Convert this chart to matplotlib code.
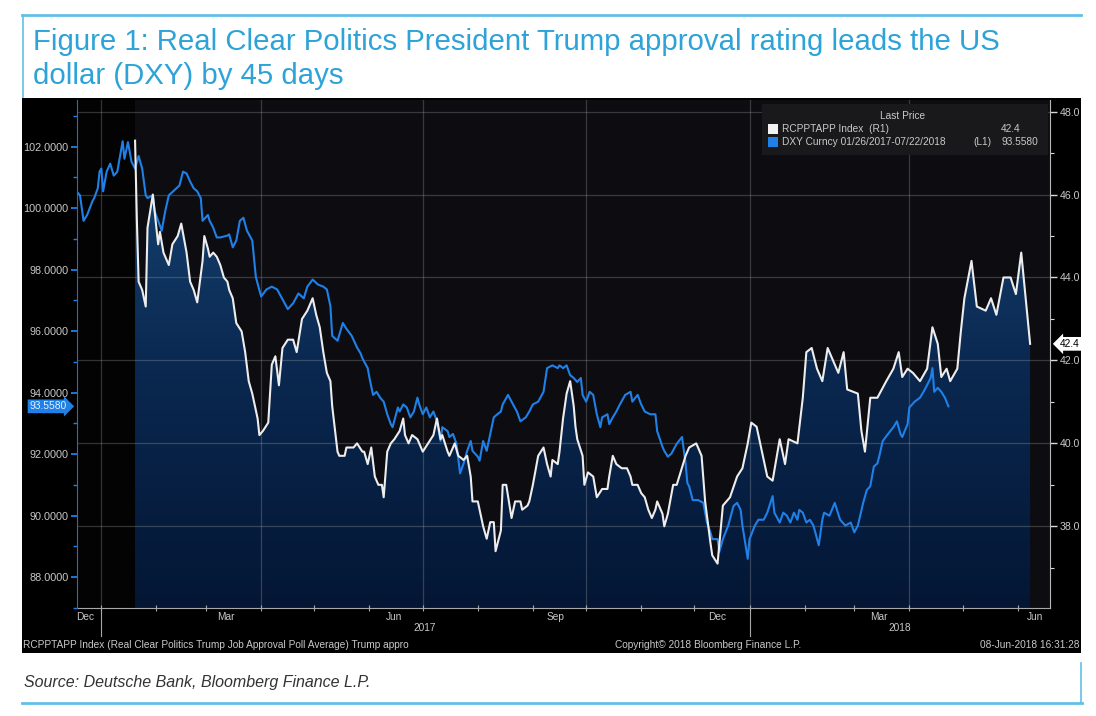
import numpy as np
import pandas as pd
import matplotlib
matplotlib.use("Agg")
import matplotlib.pyplot as plt
import matplotlib.dates as mdates
import matplotlib.transforms as mtransforms
from matplotlib.colors import LinearSegmentedColormap
from matplotlib.patches import Rectangle
from matplotlib.lines import Line2D

plt.rcParams['font.family'] = ['Liberation Sans', 'DejaVu Sans']

# ---------------------------------------------------------------- data
BASE_DATE = "2017-01-01"   # day offsets below are counted from this date

# RCP Trump job approval average (right axis, R1)
rcp_day_offset = [19, 20, 21, 23, 25, 26, 29, 30, 32, 33,
                  35, 38, 40, 43, 45, 48, 50, 52, 54, 57,
                  58, 60, 61, 63, 65, 67, 69, 71, 72, 74,
                  76, 79, 81, 83, 85, 88, 89, 91, 94, 96,
                  98, 100, 102, 105, 108, 110, 113, 116, 119, 121,
                  123, 125, 127, 129, 130, 133, 134, 137, 138, 142,
                  144, 147, 148, 150, 152, 154, 156, 158, 159, 161,
                  163, 165, 168, 170, 171, 173, 175, 178, 181, 184,
                  187, 189, 191, 192, 195, 196, 199, 201, 204, 206,
                  208, 209, 212, 213, 215, 217, 219, 221, 222, 225,
                  226, 228, 231, 233, 236, 237, 240, 241, 243, 246,
                  249, 251, 253, 254, 257, 258, 260, 262, 264, 266,
                  267, 268, 271, 272, 274, 277, 279, 282, 285, 286,
                  288, 290, 293, 296, 298, 299, 302, 304, 306, 308,
                  310, 312, 313, 316, 317, 319, 322, 324, 329, 331,
                  335, 338, 340, 343, 344, 347, 350, 354, 358, 361,
                  364, 366, 369, 372, 375, 378, 382, 385, 387, 392,
                  395, 397, 400, 403, 406, 409, 413, 415, 418, 420,
                  426, 428, 430, 433, 437, 442, 446, 449, 451, 454,
                  457, 461, 465, 468, 471, 473, 476, 478, 482, 484,
                  486, 490, 493, 498, 501, 504, 508, 512, 515, 518,
                  523]
rcp_values = [47.3, 45.4, 43.9, 43.7, 43.3, 45.2, 46.0, 45.6, 44.8, 45.1,
              44.6, 44.3, 44.8, 45.0, 45.3, 44.6, 43.9, 43.7, 43.4, 44.4,
              45.0, 44.7, 44.5, 44.6, 44.5, 44.3, 44.0, 43.9, 43.7, 43.5,
              42.9, 42.7, 42.2, 41.5, 41.2, 40.6, 40.2, 40.3, 40.5, 41.9,
              42.1, 41.4, 42.3, 42.5, 42.5, 42.2, 43.0, 43.2, 43.5, 43.1,
              42.8, 42.2, 41.7, 41.5, 40.9, 39.8, 39.7, 39.7, 39.9, 39.9,
              40.0, 39.8, 39.8, 39.5, 39.9, 39.2, 39.0, 39.0, 38.7, 39.8,
              40.0, 40.1, 40.3, 40.6, 40.2, 40.0, 40.2, 40.1, 39.8, 40.0,
              40.2, 40.6, 40.1, 40.2, 39.8, 39.7, 40.0, 39.7, 39.6, 39.7,
              39.2, 38.6, 38.6, 38.4, 38.0, 37.7, 38.1, 38.1, 37.4, 37.9,
              39.0, 39.0, 38.2, 38.6, 38.6, 38.4, 38.5, 38.6, 39.0, 39.7,
              39.9, 39.5, 39.2, 39.6, 39.5, 39.8, 40.6, 41.2, 41.5, 40.9,
              40.4, 40.1, 39.7, 39.0, 39.3, 39.2, 38.7, 38.9, 38.9, 39.2,
              39.7, 39.5, 39.4, 39.4, 39.2, 39.0, 39.0, 38.8, 38.7, 38.4,
              38.2, 38.4, 38.6, 38.3, 38.0, 38.3, 39.0, 39.0, 39.7, 39.9,
              40.0, 39.7, 38.6, 37.6, 37.3, 37.1, 38.5, 38.7, 39.2, 39.4,
              40.0, 40.5, 40.4, 39.8, 39.2, 39.1, 40.1, 39.5, 40.1, 40.0,
              41.1, 42.2, 42.3, 41.8, 41.5, 42.3, 41.9, 41.7, 42.2, 41.3,
              41.2, 40.3, 39.8, 41.1, 41.1, 41.5, 41.8, 42.2, 41.6, 41.8,
              41.7, 41.5, 41.8, 42.8, 42.4, 41.6, 41.8, 41.5, 41.8, 42.7,
              43.5, 44.4, 43.3, 43.2, 43.5, 43.1, 44.0, 44.0, 43.6, 44.6,
              42.4]

# DXY (left axis, L1), shifted 45 days
dxy_day_offset = [-14, -12, -10, -8, -5, -4, -2, -1, 0, 1,
                  3, 5, 7, 9, 12, 13, 15, 17, 19, 21,
                  23, 25, 26, 29, 30, 32, 34, 36, 38, 41,
                  44, 46, 48, 50, 52, 54, 56, 57, 60, 61,
                  63, 65, 67, 71, 72, 74, 76, 78, 80, 82,
                  85, 87, 88, 90, 93, 96, 99, 102, 105, 108,
                  111, 114, 116, 119, 122, 125, 127, 129, 130, 133,
                  136, 138, 141, 144, 146, 147, 150, 151, 153, 155,
                  157, 159, 161, 163, 164, 167, 168, 170, 172, 174,
                  176, 178, 179, 181, 183, 185, 187, 189, 191, 192,
                  195, 196, 198, 200, 202, 204, 206, 208, 209, 212,
                  213, 215, 217, 219, 221, 223, 225, 226, 229, 231,
                  234, 236, 239, 241, 243, 246, 249, 251, 254, 257,
                  258, 260, 262, 264, 266, 268, 270, 271, 273, 275,
                  277, 279, 281, 282, 285, 286, 288, 290, 292, 295,
                  298, 299, 302, 304, 306, 309, 312, 313, 316, 317,
                  319, 321, 324, 327, 329, 330, 331, 333, 336, 339,
                  341, 343, 344, 347, 348, 350, 353, 356, 358, 360,
                  361, 364, 365, 368, 370, 373, 375, 378, 379, 382,
                  384, 386, 388, 390, 392, 393, 395, 397, 399, 401,
                  404, 406, 407, 410, 413, 416, 419, 422, 424, 426,
                  429, 431, 433, 435, 437, 438, 440, 443, 446, 448,
                  450, 451, 454, 455, 458, 461, 463, 465, 467, 468,
                  469, 471, 473, 475, 477]
dxy_values = [100.55, 100.42, 99.59, 99.78, 100.23, 100.33, 100.65, 101.19, 101.29, 100.55,
              101.19, 101.45, 101.06, 101.19, 102.18, 101.61, 102.15, 101.51, 101.29, 101.70,
              101.29, 100.42, 100.33, 100.42, 99.91, 99.59, 99.27, 99.91, 100.42, 100.58,
              100.74, 101.19, 101.13, 100.87, 100.65, 100.55, 100.33, 99.59, 99.78, 99.59,
              99.37, 99.05, 99.05, 99.11, 99.15, 98.73, 98.95, 99.59, 99.69, 99.27,
              98.95, 97.77, 97.55, 97.13, 97.36, 97.45, 97.36, 97.04, 96.72, 96.91,
              97.23, 97.07, 97.45, 97.68, 97.52, 97.45, 97.36, 96.81, 95.85, 95.69,
              96.27, 96.08, 95.85, 95.47, 95.28, 95.12, 94.80, 94.48, 93.93, 94.03,
              93.84, 93.71, 93.30, 92.98, 92.88, 93.52, 93.39, 93.62, 93.52, 93.20,
              93.39, 93.84, 93.62, 93.30, 93.52, 93.20, 93.39, 93.07, 92.43, 92.88,
              92.75, 92.56, 92.66, 92.34, 91.38, 91.70, 92.11, 92.43, 92.11, 91.92,
              91.79, 92.43, 92.11, 92.66, 93.20, 93.30, 93.39, 93.62, 93.93, 93.71,
              93.39, 93.07, 93.20, 93.39, 93.62, 93.71, 94.03, 94.80, 94.89, 94.80,
              94.89, 94.80, 94.89, 94.57, 94.48, 94.35, 94.48, 93.93, 93.71, 94.03,
              93.93, 93.30, 92.88, 93.20, 93.30, 92.98, 93.20, 93.39, 93.62, 93.93,
              94.03, 93.71, 93.93, 93.62, 93.39, 93.30, 93.30, 92.75, 92.24, 92.11,
              91.92, 92.02, 92.34, 92.56, 91.70, 91.06, 90.96, 90.51, 90.51, 90.42,
              89.78, 89.46, 89.24, 89.24, 88.82, 89.24, 89.68, 90.32, 90.42, 90.19,
              89.68, 88.60, 89.24, 89.68, 89.87, 89.87, 90.10, 90.64, 90.10, 89.78,
              90.10, 90.00, 89.78, 90.10, 89.87, 90.19, 90.10, 89.78, 89.87, 89.68,
              89.04, 89.87, 90.10, 90.00, 90.42, 89.87, 89.68, 89.78, 89.46, 89.68,
              90.42, 90.83, 90.96, 91.60, 91.70, 91.92, 92.43, 92.66, 92.88, 93.07,
              92.66, 92.56, 92.98, 93.52, 93.71, 93.84, 94.03, 94.25, 94.48, 94.80,
              94.03, 94.16, 94.03, 93.84, 93.558]

dxy_ticks = [88, 90, 92, 94, 96, 98, 100, 102]
rcp_ticks = [38, 40, 42, 44, 46, 48]
grid_dates = ["2017-01-01", "2017-04-01", "2017-07-01", "2017-10-01", "2018-01-01", "2018-04-01"]
month_label_dates = ["2016-12-23", "2017-03-12", "2017-06-15", "2017-09-14",
                     "2017-12-14", "2018-03-15", "2018-06-11"]
month_labels = ["Dec", "Mar", "Jun", "Sep", "Dec", "Mar", "Jun"]
year_starts = ["2017-01-01", "2018-01-01"]
year_labels = ["2017", "2018"]
rcp_last, dxy_last = 42.4, 93.558

title_lines = ["Figure 1: Real Clear Politics President Trump approval rating leads the US",
               "dollar (DXY) by 45 days"]
legend_header = "Last Price"
legend_rows = [("RCPPTAPP Index  (R1)", "", "42.4"),
               ("DXY Curncy 01/26/2017-07/22/2018", "(L1)", "93.5580")]
footer_left = "RCPPTAPP Index (Real Clear Politics Trump Job Approval Poll Average) Trump appro"
footer_mid = "Copyright\u00a9 2018 Bloomberg Finance L.P."
footer_right = "08-Jun-2018 16:31:28"
source_text = "Source: Deutsche Bank, Bloomberg Finance L.P."

# ---------------------------------------------------------------- setup
base = pd.Timestamp(BASE_DATE)
rcp_dates = base + pd.to_timedelta(rcp_day_offset, unit="D")
dxy_dates = base + pd.to_timedelta(dxy_day_offset, unit="D")
x0 = base - pd.Timedelta(days=13.7)
x1 = base + pd.Timedelta(days=534.2)
RL, RH = 36.03, 48.28      # right axis limits
DL, DH = 87.28, 103.52     # left axis limits

W, H = 1096, 716
fig = plt.figure(figsize=(W / 100, H / 100), dpi=100)
fig.patch.set_facecolor("white")


def fx(px):
    return px / W


def fy(py):
    return 1 - py / H


TITLE_BLUE = "#2ea3d8"
BORDER_BLUE = "#62bfe8"
DXY_BLUE = "#1f80e8"
TXT = "#c8c8c8"

# Bloomberg black panel
fig.add_artist(Rectangle((fx(22), fy(653)), fx(1081) - fx(22), fy(98) - fy(653),
                         transform=fig.transFigure, facecolor="black",
                         edgecolor="none", zorder=-5))

ax = fig.add_axes([fx(77), fy(608), fx(1050) - fx(77), fy(100) - fy(608)])
axL = ax.twinx()
axR = ax.twinx()

ax.set_facecolor("#0d0d11")
ax.axvspan(x0, rcp_dates[0], color="#030303", lw=0, zorder=0.5)

# gradient area under the approval line
poly = ax.fill_between(rcp_dates, rcp_values, RL, color="none", lw=0)
cmap = LinearSegmentedColormap.from_list("bbg", ["#041634", "#0a2850", "#174676"])
grad = np.linspace(0, 1, 256).reshape(-1, 1)
xa, xb = mdates.date2num(x0), mdates.date2num(x1)
im = ax.imshow(grad, extent=[xa, xb, RL, 47.5], origin="lower", aspect="auto",
               cmap=cmap, zorder=1, interpolation="bilinear")
im.set_clip_path(poly.get_paths()[0], transform=ax.transData)

grid_kw = dict(color="#b0b0b0", alpha=0.28, lw=0.9, zorder=2)
for v in rcp_ticks:
    ax.axhline(v, **grid_kw)
for d in grid_dates:
    ax.axvline(pd.Timestamp(d), **grid_kw)

axL.plot(dxy_dates, dxy_values, color=DXY_BLUE, lw=1.5, solid_joinstyle="round")
axR.plot(rcp_dates, rcp_values, color="#ededed", lw=1.5, solid_joinstyle="round")

for a in (ax, axL, axR):
    a.set_xlim(x0, x1)
ax.set_ylim(RL, RH)
axR.set_ylim(RL, RH)
axL.set_ylim(DL, DH)

# spines
for a in (ax, axL, axR):
    for s in a.spines.values():
        s.set_visible(False)
ax.spines["bottom"].set_visible(True)
ax.spines["bottom"].set_color("#a8a8a8")
axL.spines["left"].set_visible(True)
axL.spines["left"].set_color("#2a6db0")
axR.spines["right"].set_visible(True)
axR.spines["right"].set_color("#b8b8b8")

# x axis
ax.set_xticks([pd.Timestamp(d) for d in month_label_dates])
ax.set_xticklabels(month_labels)
month_starts = pd.date_range("2017-01-01", "2018-06-01", freq="MS")
ax.set_xticks(list(month_starts), minor=True)
ax.tick_params(axis="x", which="major", length=0, pad=3, labelsize=7.3, labelcolor=TXT)
ax.tick_params(axis="x", which="minor", length=5, direction="inout", color="#a8a8a8", width=0.8)
ax.tick_params(axis="y", which="both", left=False, right=False, labelleft=False, labelright=False)

trans = mtransforms.blended_transform_factory(ax.transData, ax.transAxes)
for d, lab in zip(year_starts, year_labels):
    ax.plot([pd.Timestamp(d)] * 2, [0, -0.055], transform=trans, color="#a8a8a8",
            lw=0.8, clip_on=False)
y17 = pd.Timestamp("2017-07-02")
y18 = pd.Timestamp(year_starts[1]) + (x1 - pd.Timestamp(year_starts[1])) / 2
for d, lab in zip([y17, y18], year_labels):
    ax.text(d, -0.039, lab, transform=trans, ha="center", va="center",
            fontsize=7.3, color=TXT)

# left axis (DXY)
axL.yaxis.tick_left()
axL.set_yticks(dxy_ticks)
axL.set_yticklabels([f"{v:.4f}" for v in dxy_ticks])
axL.set_yticks(list(range(87, 104, 2)), minor=True)
axL.tick_params(axis="y", which="major", colors=DXY_BLUE, labelcolor=TXT,
                labelsize=7.8, length=4, width=1.3, pad=2)
axL.tick_params(axis="y", which="minor", colors=DXY_BLUE, length=3, width=1.0)

# right axis (approval)
axR.yaxis.tick_right()
axR.set_yticks(rcp_ticks)
axR.set_yticklabels([f"{v:.1f}" for v in rcp_ticks])
axR.set_yticks(list(range(37, 49, 2)), minor=True)
axR.tick_params(axis="y", which="major", colors="#d8d8d8", labelcolor=TXT,
                labelsize=7.6, length=5, width=1.0, pad=2)
axR.tick_params(axis="y", which="minor", colors="#d8d8d8", length=3, width=0.8)

# last-value tags
tL = mtransforms.blended_transform_factory(axL.transAxes, axL.transData)
axL.text(-0.0105, dxy_last, f"{dxy_last:.4f}", transform=tL, ha="right", va="center",
         fontsize=7.4, color="#e6f0ff", clip_on=False,
         bbox=dict(boxstyle="rarrow,pad=0.18", fc=DXY_BLUE, ec="none"))
tR = mtransforms.blended_transform_factory(axR.transAxes, axR.transData)
axR.text(1.0105, rcp_last, f"{rcp_last:.1f}", transform=tR, ha="left", va="center",
         fontsize=7.4, color="black", clip_on=False,
         bbox=dict(boxstyle="larrow,pad=0.18", fc="white", ec="none"))

# legend box
fig.add_artist(Rectangle((fx(762), fy(155)), fx(1048) - fx(762), fy(104) - fy(155),
                         transform=fig.transFigure, facecolor="#19191c",
                         edgecolor="none", zorder=5))
fig.text(fx(903), fy(116), legend_header, ha="center", va="center",
         fontsize=7.3, color=TXT, zorder=6)
for i, ((name, tag, val), col) in enumerate(zip(legend_rows, ["#f2f2f2", DXY_BLUE])):
    yy = 129 + 13 * i
    fig.add_artist(Rectangle((fx(768), fy(yy + 5)), fx(778) - fx(768), fy(yy - 5) - fy(yy + 5),
                             transform=fig.transFigure, facecolor=col,
                             edgecolor="none", zorder=6))
    fig.text(fx(782), fy(yy), name, ha="left", va="center", fontsize=7.3, color=TXT, zorder=6)
    if tag:
        fig.text(fx(973), fy(yy), tag, ha="left", va="center", fontsize=7.3, color=TXT, zorder=6)
    fig.text(fx(1001), fy(yy), val, ha="left", va="center", fontsize=7.3, color=TXT, zorder=6)

# footer inside the panel
fig.text(fx(23), fy(645), footer_left, ha="left", va="center", fontsize=7.3, color=TXT)
fig.text(fx(708), fy(645), footer_mid, ha="center", va="center", fontsize=7.3, color=TXT)
fig.text(fx(1079), fy(645), footer_right, ha="right", va="center", fontsize=7.3, color=TXT)

# title & frame
fig.text(fx(33), fy(50), title_lines[0], ha="left", va="baseline", fontsize=21.2, color=TITLE_BLUE)
fig.text(fx(33), fy(84), title_lines[1], ha="left", va="baseline", fontsize=21.2, color=TITLE_BLUE)
fig.add_artist(Line2D([fx(22), fx(1081)], [fy(15), fy(15)], color=BORDER_BLUE, lw=2.0))
fig.add_artist(Line2D([fx(23), fx(23)], [fy(15), fy(97)], color=BORDER_BLUE, lw=1.2))
fig.add_artist(Line2D([fx(22), fx(1082)], [fy(703), fy(703)], color=BORDER_BLUE, lw=2.0))
fig.add_artist(Line2D([fx(1081), fx(1081)], [fy(663), fy(703)], color=BORDER_BLUE, lw=1.2))
fig.text(fx(24), fy(683), source_text, ha="left", va="center", fontsize=11.5,
         style="italic", color="#333333")

fig.savefig("out.png", dpi=100, facecolor="white")
